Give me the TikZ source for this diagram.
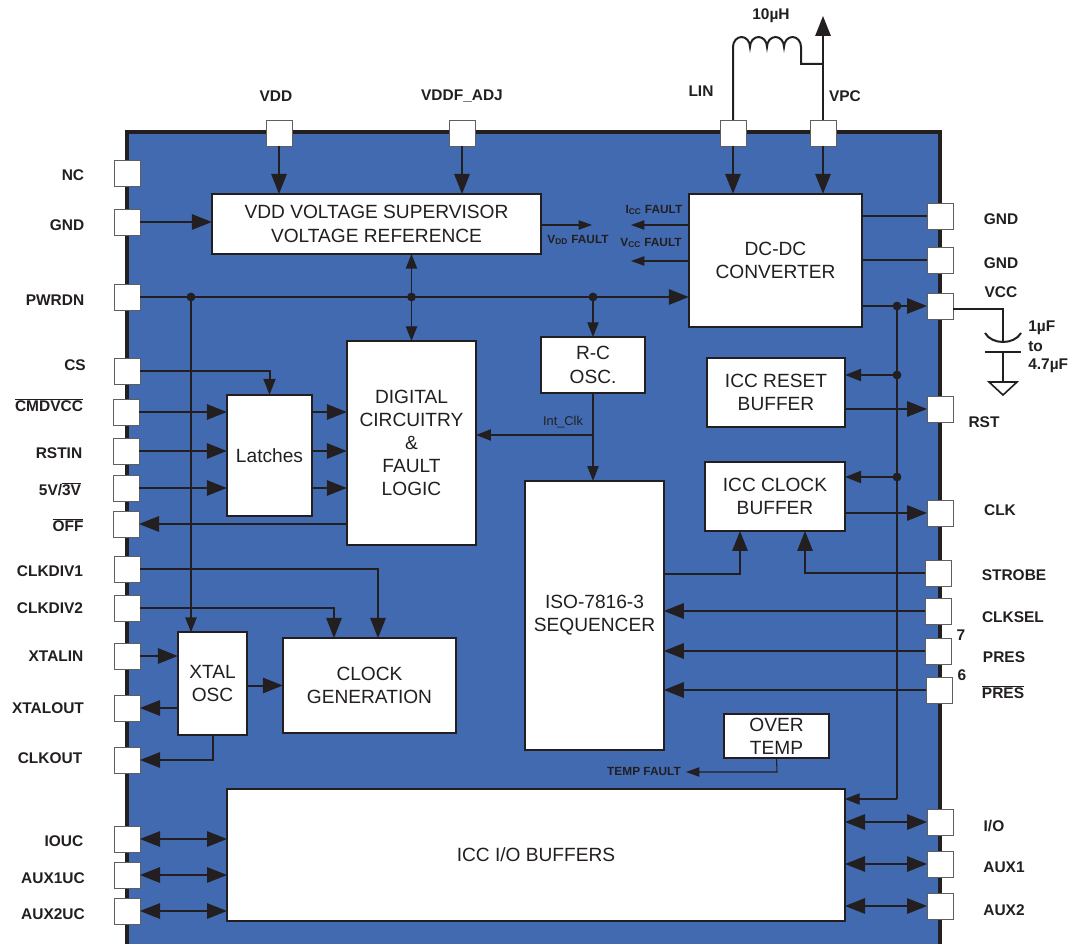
\documentclass[tikz,border=0pt]{standalone}
\usepackage{fontspec}
\setmainfont{Liberation Sans}
\usetikzlibrary{arrows.meta}
\definecolor{chipblue}{RGB}{65,106,177}
\definecolor{inkdark}{RGB}{35,31,32}
\definecolor{pinedge}{RGB}{95,95,95}
\tikzset{
  blockbox/.style={draw=inkdark,line width=1.9pt,fill=white,text=inkdark,inner sep=0pt,outer sep=0pt,
    align=center,font=\fontsize{14.35}{17.4}\selectfont},
  pinbox/.style={draw=pinedge,line width=0.6pt,fill=white,minimum width=19.5pt,minimum height=19.5pt,inner sep=0pt,outer sep=0pt},
  pinlabel/.style={text=inkdark,inner sep=0pt,font=\fontsize{11.6}{13}\selectfont\bfseries},
  faultlabel/.style={text=inkdark,inner sep=0pt,font=\fontsize{8.9}{10}\selectfont\bfseries},
  wire/.style={draw=inkdark,line width=1.5pt},
  sigline/.style={wire,-{Triangle[length=15pt,width=11.5pt]}},
  dualline/.style={wire,{Triangle[length=15pt,width=11.5pt]}-{Triangle[length=15pt,width=11.5pt]}},
  thinline/.style={draw=inkdark,line width=0.8pt,-{Triangle[length=11pt,width=8.5pt]}},
  faultline/.style={draw=inkdark,line width=0.8pt,-{Triangle[length=10pt,width=7pt]}},
  dot/.style={circle,fill=inkdark,minimum size=6.6pt,inner sep=0pt,outer sep=0pt}
}
\begin{document}
\begin{tikzpicture}[x=0.75pt,y=-0.75pt]
  \useasboundingbox (0,0) rectangle (1075,944);
  \clip (0,0) rectangle (1075,944);
  % chip outline
  \fill[chipblue] (127,132) rectangle (940,950);
  \draw[draw=inkdark,line width=3.4pt] (127,950) -- (127,132) -- (940,132) -- (940,950);

  % blocks
  \node[blockbox,minimum width=247pt,minimum height=45pt] (supervisor) at (376.5,224) {VDD VOLTAGE SUPERVISOR\\VOLTAGE REFERENCE};
  \node[blockbox,minimum width=130pt,minimum height=100pt] (dcdc) at (775.5,260.5) {DC-DC\\CONVERTER};
  \node[blockbox,minimum width=97pt,minimum height=153pt] (digital) at (411.5,443) {DIGITAL\\CIRCUITRY\\\&\\FAULT\\LOGIC};
  \node[blockbox,minimum width=78pt,minimum height=42pt] (rcosc) at (593,365) {R-C\\OSC.};
  \node[blockbox,minimum width=103.5pt,minimum height=52pt] (resetbuf) at (776,392.5) {ICC RESET\\BUFFER};
  \node[blockbox,minimum width=64pt,minimum height=91pt] (latches) at (269.5,455.5) {Latches};
  \node[blockbox,minimum width=105pt,minimum height=52pt] (clockbuf) at (775,496.5) {ICC CLOCK\\BUFFER};
  \node[blockbox,minimum width=104pt,minimum height=202pt] (sequencer) at (594.5,615.5) {ISO-7816-3\\SEQUENCER};
  \node[blockbox,minimum width=52pt,minimum height=77pt] (xtal) at (212.5,683.5) {XTAL\\OSC};
  \node[blockbox,minimum width=130pt,minimum height=71pt] (clockgen) at (369.5,685.5) {CLOCK\\GENERATION};
  \node[blockbox,minimum width=79pt,minimum height=33pt] (overtemp) at (776.5,736) {OVER\\TEMP};
  \node[blockbox,minimum width=463.5pt,minimum height=99pt] (iobuf) at (536,855) {ICC I/O BUFFERS};

  % pins on top
  \node[pinbox] (pvdd) at (279,133) {};
  \node[pinbox] (pvddf) at (462,133) {};
  \node[pinbox] (plin) at (733,133) {};
  \node[pinbox] (pvpc) at (823,133) {};
  % pins on the left
  \node[pinbox] (pnc) at (127,173) {};
  \node[pinbox] (pgnd) at (127,222) {};
  \node[pinbox] (ppwrdn) at (127,297) {};
  \node[pinbox] (pcs) at (127,371) {};
  \node[pinbox] (pcmd) at (126,412) {};
  \node[pinbox] (prstin) at (126,451) {};
  \node[pinbox] (pvolt) at (126,488) {};
  \node[pinbox] (poff) at (126,524) {};
  \node[pinbox] (pdiva) at (127,569) {};
  \node[pinbox] (pdivb) at (127,608) {};
  \node[pinbox] (pxin) at (127,656) {};
  \node[pinbox] (pxout) at (127,708) {};
  \node[pinbox] (pclkout) at (127,760) {};
  \node[pinbox] (piouc) at (127,839) {};
  \node[pinbox] (pauxa) at (127,875) {};
  \node[pinbox] (pauxb) at (127,911) {};
  % pins on the right
  \node[pinbox] (pgnda) at (940,216) {};
  \node[pinbox] (pgndb) at (940,260) {};
  \node[pinbox] (pvcc) at (940,306) {};
  \node[pinbox] (prst) at (940,409) {};
  \node[pinbox] (pclk) at (940,513) {};
  \node[pinbox] (pstrobe) at (938,573) {};
  \node[pinbox] (pclksel) at (938,611) {};
  \node[pinbox] (ppres) at (938,651) {};
  \node[pinbox] (pnpres) at (939,690) {};
  \node[pinbox] (pio) at (940,822) {};
  \node[pinbox] (paux1) at (940,864) {};
  \node[pinbox] (paux2) at (940,906) {};

  % junctions
  \node[dot] (jxtal) at (191,297) {};
  \node[dot] (jdigital) at (411.5,297) {};
  \node[dot] (jrc) at (593,297) {};
  \node[dot] (jvcc) at (897,306) {};
  \node[dot] (jreset) at (897,375) {};
  \node[dot] (jclock) at (897,477) {};
  \coordinate (vddend) at (592,225);
  \coordinate (iccend) at (631,225);
  \coordinate (vccend) at (631,261);
  \coordinate (tempend) at (686,772);
  \coordinate (tempknee) at (777,772);
  \coordinate (ioknee) at (897,799);

  % wires from the top pins
  \draw[sigline] (pvdd.south) -- (pvdd.south |- supervisor.north);
  \draw[sigline] (pvddf.south) -- (pvddf.south |- supervisor.north);
  \draw[sigline] (plin.south) -- (plin.south |- dcdc.north);
  \draw[sigline] (pvpc.south) -- (pvpc.south |- dcdc.north);
  % left side
  \draw[sigline] (pgnd.east) -- (pgnd.east -| supervisor.west);
  \draw[sigline] (ppwrdn.east) -- (ppwrdn.east -| dcdc.west);
  \draw[thinline] (jxtal) -- (jxtal |- xtal.north);
  \draw[wire,{Triangle[length=11pt,width=8.5pt]}-{Triangle[length=11pt,width=8.5pt]},line width=1pt] (jdigital |- supervisor.south) -- (jdigital |- digital.north);
  \draw[thinline] (jrc) -- (rcosc.north);
  \draw[thinline] (rcosc.south) -- (rcosc.south |- sequencer.north);
  \draw[thinline] (593,435) -- (593,435 -| digital.east);
  \draw[sigline,-{Triangle[length=12pt,width=9pt]}] (pcs.east) -| (latches.north);
  \draw[sigline] (pcmd.east) -- (pcmd.east -| latches.west);
  \draw[sigline] (prstin.east) -- (prstin.east -| latches.west);
  \draw[sigline] (pvolt.east) -- (pvolt.east -| latches.west);
  \draw[sigline] (pcmd.east -| latches.east) -- (pcmd.east -| digital.west);
  \draw[sigline] (prstin.east -| latches.east) -- (prstin.east -| digital.west);
  \draw[sigline] (pvolt.east -| latches.east) -- (pvolt.east -| digital.west);
  \draw[sigline] (poff.east -| digital.west) -- (poff.east);
  \draw[sigline] (pdiva.east) -| (378,638);
  \draw[sigline] (pdivb.east) -| (334,638);
  \draw[sigline] (pxin.east) -- (pxin.east -| xtal.west);
  \draw[sigline] (pxout.east -| xtal.west) -- (pxout.east);
  \draw[sigline] (xtal.south) |- (pclkout.east);
  \draw[sigline] (xtal.east |- clockgen.west) -- (clockgen.west);
  \draw[dualline] (iobuf.west |- piouc.east) -- (piouc.east);
  \draw[dualline] (iobuf.west |- pauxa.east) -- (pauxa.east);
  \draw[dualline] (iobuf.west |- pauxb.east) -- (pauxb.east);
  % fault flags
  \draw[faultline] (supervisor.east |- vddend) -- (vddend);
  \draw[faultline] (dcdc.west |- iccend) -- (iccend);
  \draw[faultline] (dcdc.west |- vccend) -- (vccend);
  \draw[faultline] (overtemp.south) -- (tempknee) -- (tempend);
  % right side
  \draw[wire] (dcdc.east |- pgnda.west) -- (pgnda.west);
  \draw[wire] (dcdc.east |- pgndb.west) -- (pgndb.west);
  \draw[sigline] (dcdc.east |- pvcc.west) -- (pvcc.west);
  \draw[draw=inkdark,line width=1pt] (jvcc) -- (ioknee);
  \draw[thinline] (ioknee) -- (ioknee -| iobuf.east);
  \draw[sigline,-{Triangle[length=12pt,width=9pt]}] (jreset) -- (jreset -| resetbuf.east);
  \draw[sigline,-{Triangle[length=12pt,width=9pt]}] (jclock) -- (jclock -| clockbuf.east);
  \draw[sigline] (resetbuf.east |- prst.west) -- (prst.west);
  \draw[sigline] (clockbuf.east |- pclk.west) -- (pclk.west);
  \draw[sigline] (sequencer.east |- 0,574) -| (740,531);
  \draw[sigline] (pstrobe.west) -| (805,531);
  \draw[sigline] (pclksel.west) -- (pclksel.west -| sequencer.east);
  \draw[sigline] (ppres.west) -- (ppres.west -| sequencer.east);
  \draw[sigline] (pnpres.west) -- (pnpres.west -| sequencer.east);
  \draw[dualline] (iobuf.east |- pio.west) -- (pio.west);
  \draw[dualline] (iobuf.east |- paux1.west) -- (paux1.west);
  \draw[dualline] (iobuf.east |- paux2.west) -- (paux2.west);

  % inductor and supply
  \coordinate (coilstart) at (733,47);
  \coordinate (coilend) at (801,47);
  \coordinate (supplytop) at (823,16);
  \draw[wire] (plin.north) -- (coilstart)
    arc[start angle=180,end angle=360,x radius=8.5,y radius=10]
    arc[start angle=180,end angle=360,x radius=8.5,y radius=10]
    arc[start angle=180,end angle=360,x radius=8.5,y radius=10]
    arc[start angle=180,end angle=360,x radius=8.5,y radius=10]
    -- (coilend |- 0,64) -- (823,64);
  \draw[sigline] (pvpc.north) -- (supplytop);

  % capacitor to ground
  \coordinate (capknee) at (1003,309);
  \coordinate (capplate) at (1003,343);
  \coordinate (capbase) at (1003,352);
  \coordinate (gndtop) at (1003,381);
  \draw[wire] (pvcc.east |- capknee) -- (capknee) -- (capplate);
  \draw[wire] (985,333) .. controls (992,345) and (1014,345) .. (1021,333);
  \draw[wire] (985,352) -- (1021,352);
  \draw[wire] (capbase) -- (gndtop);
  \draw[draw=inkdark,line width=1.2pt] (989,382) -- (1017,382) -- (1003,395) -- cycle;

  % pin names
  \node[pinlabel] (lvdd) at (276,96) {VDD};
  \node[pinlabel] (lvddf) at (462,96) {VDDF\_ADJ};
  \node[pinlabel] (llin) at (701,91) {LIN};
  \node[pinlabel] (lvpc) at (845,96) {VPC};
  \node[pinlabel] (lcoil) at (771,16) {10µH};
  \node[pinlabel] (lnc) at (73,175) {NC};
  \node[pinlabel] (lgnd) at (67,225) {GND};
  \node[pinlabel] (lpwrdn) at (55,300) {PWRDN};
  \node[pinlabel] (lcs) at (75,365) {CS};
  \node[pinlabel] (lcmd) at (49,405) {$\overline{\hbox{CMDVCC}}$};
  \node[pinlabel] (lrstin) at (59,453) {RSTIN};
  \node[pinlabel] (lvolt) at (60,489) {5V/$\overline{\hbox{3V}}$};
  \node[pinlabel] (loff) at (68,525) {$\overline{\hbox{OFF}}$};
  \node[pinlabel] (ldiva) at (50,571) {CLKDIV1};
  \node[pinlabel] (ldivb) at (50,608) {CLKDIV2};
  \node[pinlabel] (lxin) at (56,656) {XTALIN};
  \node[pinlabel] (lxout) at (48,708) {XTALOUT};
  \node[pinlabel] (lclkout) at (50,758) {CLKOUT};
  \node[pinlabel] (liouc) at (64,841) {IOUC};
  \node[pinlabel] (lauxa) at (53,878) {AUX1UC};
  \node[pinlabel] (lauxb) at (53,914) {AUX2UC};
  \node[pinlabel] (lgnda) at (1001,219) {GND};
  \node[pinlabel] (lgndb) at (1001,263) {GND};
  \node[pinlabel] (lvcc) at (1001,292) {VCC};
  \node[pinlabel] (lrst) at (984,422) {RST};
  \node[pinlabel] (lclk) at (1000,510) {CLK};
  \node[pinlabel] (lstrobe) at (1014,575) {STROBE};
  \node[pinlabel] (lclksel) at (1013,617) {CLKSEL};
  \node[pinlabel] (lpres) at (1004,657) {PRES};
  \node[pinlabel] (lnpres) at (1003,692) {$\overline{\hbox{PRES}}$};
  \node[pinlabel] (lseven) at (961,635) {7};
  \node[pinlabel] (lsix) at (962,675) {6};
  \node[pinlabel] (lio) at (994,826) {I/O};
  \node[pinlabel] (laux1) at (1004,867) {AUX1};
  \node[pinlabel] (laux2) at (1004,910) {AUX2};
  \node[pinlabel,anchor=west] (lcapa) at (1028,328) {1µF};
  \node[pinlabel,anchor=west] (lcapb) at (1028,347) {to};
  \node[pinlabel,anchor=west] (lcapc) at (1028,366) {4.7µF};
  % fault flags and clock names
  \node[faultlabel] (lvddfault) at (578,240) {V\textsubscript{DD} FAULT};
  \node[faultlabel] (liccfault) at (654,210) {I\textsubscript{CC} FAULT};
  \node[faultlabel] (lvccfault) at (651,243) {V\textsubscript{CC} FAULT};
  \node[faultlabel] (ltemp) at (644,771) {TEMP FAULT};
  \node[text=inkdark,inner sep=0pt,font=\fontsize{9.6}{11}\selectfont] (lintclk) at (563,422) {Int\_Clk};
\end{tikzpicture}
\end{document}
